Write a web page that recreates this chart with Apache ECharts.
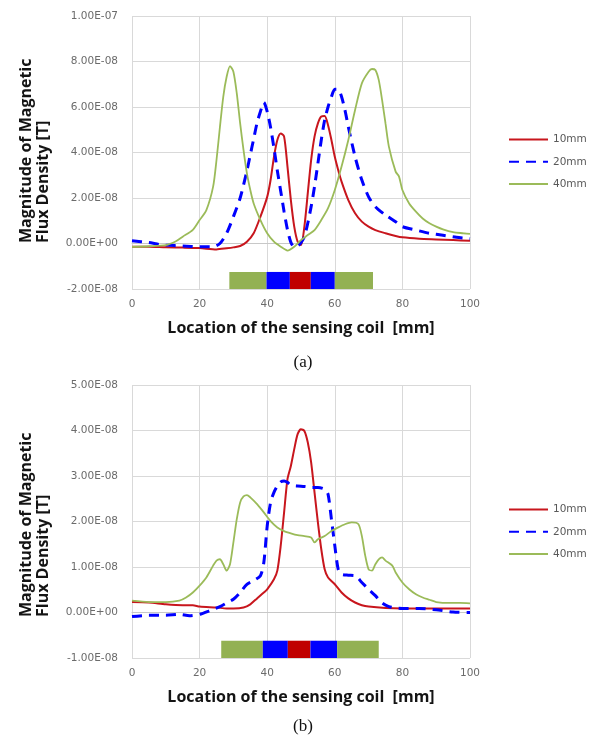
<!DOCTYPE html>
<html>
<head>
<meta charset="utf-8">
<script src="https://cdn.jsdelivr.net/npm/echarts@6/dist/echarts.min.js"></script>
<style>
  html, body { margin: 0; padding: 0; background: #fff; }
  #chart { width: 591px; height: 746px; }
</style>
</head>
<body>
<div id="chart"></div>
<script>
// values in units of 1e-8 T, x in mm
const UNIT = 1e-8

const seriesNames = ['10mm', '20mm', '40mm']

// (a)
const a10 = [[0,-0.14],[5,-0.14],[10,-0.17],[15,-0.18],[20,-0.2],[25,-0.26],[28,-0.21],[30,-0.17],[32,-0.11],[34,0.08],
  [36,0.45],[38,1.18],[40,2.05],[41,2.79],[42,3.81],[43,4.55],[44,4.84],[45,4.7],[46,3.38],[47,1.91],
  [48,0.74],[49,0.08],[50,-0.07],[51,0.74],[52,2.2],[53,3.67],[54,4.7],[55,5.28],[56,5.58],[57,5.6],
  [58,5.2],[59,4.55],[60,3.81],[61,3.23],[62,2.72],[64,1.91],[66,1.33],[68,0.96],[70,0.74],[72,0.59],
  [75,0.45],[78,0.33],[80,0.27],[85,0.21],[90,0.18],[95,0.15],[100,0.12]]
const a20 = [[0,0.12],[5,0.04],[8,-0.04],[10,-0.07],[15,-0.11],[20,-0.14],[24,-0.14],[26,0],[28,0.45],[30,1.18],
  [32,2.0],[34,3.2],[35,3.9],[36,4.6],[37,5.3],[38,5.8],[39,6.2],[40,5.8],[41,5.1],[42,4.2],
  [43,3.2],[44,2.3],[45,1.4],[46,0.6],[47,0.05],[48,-0.15],[49,-0.11],[50,0.04],[51,0.3],[52,0.89],
  [53,1.62],[54,2.5],[55,3.52],[56,4.55],[57,5.43],[58,6.0],[59,6.45],[60,6.78],[61,6.78],[62,6.45],
  [63,5.87],[64,5.13],[66,3.81],[68,2.79],[70,2.05],[72,1.62],[75,1.25],[78,0.96],[80,0.74],[84,0.59],
  [88,0.45],[92,0.36],[96,0.27],[100,0.21]]
const a40 = [[0,-0.15],[5,-0.12],[10,-0.07],[13,0.1],[15,0.3],[18,0.6],[20,1.03],[22,1.47],[24,2.5],[25,3.67],
  [26,5.1],[27,6.45],[28,7.33],[29,7.8],[30,7.55],[31,6.6],[32,5.28],[33,4.1],[34,3.08],[35,2.35],
  [36,1.76],[38,1.03],[40,0.45],[42,0.08],[44,-0.14],[46,-0.31],[48,-0.14],[50,0.15],[52,0.37],[54,0.59],
  [56,1.03],[58,1.55],[60,2.35],[62,3.38],[64,4.55],[66,5.87],[68,7.04],[70,7.55],[71,7.67],[72,7.63],
  [73,7.19],[74,6.3],[75,5.28],[76,4.26],[78,3.16],[79,2.94],[80,2.35],[82,1.76],[84,1.4],[86,1.1],
  [88,0.89],[90,0.74],[92,0.62],[95,0.5],[98,0.45],[100,0.42]]

// (b)
const b10 = [[0,0.23],[5,0.22],[10,0.18],[15,0.16],[18,0.16],[20,0.13],[25,0.11],[28,0.09],[30,0.09],[33,0.11],
  [35,0.18],[37,0.31],[39,0.44],[40,0.51],[42,0.73],[43,0.92],[44,1.47],[45,2.2],[46,2.93],[47,3.22],
  [48,3.59],[49,3.92],[50,4.03],[51,3.99],[52,3.74],[53,3.3],[54,2.64],[55,1.98],[56,1.39],[57,0.95],
  [58,0.77],[60,0.62],[62,0.44],[64,0.31],[66,0.22],[68,0.16],[70,0.13],[75,0.1],[80,0.09],[90,0.09],[100,0.09]]
const b20 = [[0,-0.09],[5,-0.06],[10,-0.06],[14,-0.04],[17,-0.07],[20,-0.04],[23,0.04],[26,0.13],[28,0.21],[30,0.29],
  [32,0.44],[34,0.62],[36,0.7],[38,0.81],[39,1.1],[40,1.9],[41,2.42],[42,2.64],[43,2.78],[44,2.87],
  [45,2.89],[46,2.86],[47,2.8],[49,2.78],[51,2.77],[53,2.75],[55,2.75],[57,2.71],[58,2.6],[59,2.05],
  [60,1.47],[61,0.95],[62,0.84],[64,0.82],[66,0.81],[68,0.66],[70,0.51],[72,0.37],[74,0.21],[76,0.13],
  [78,0.1],[80,0.09],[85,0.09],[90,0.06],[95,0.01],[100,0.0]]
const b40 = [[0,0.26],[5,0.23],[10,0.23],[14,0.26],[16,0.33],[18,0.44],[20,0.59],[22,0.77],[24,1.03],[25,1.14],
  [26,1.17],[27,1.06],[28,0.92],[29,1.06],[30,1.54],[31,2.05],[32,2.42],[33,2.55],[34,2.58],[35,2.53],
  [37,2.38],[39,2.2],[41,2.01],[43,1.87],[45,1.79],[47,1.74],[49,1.7],[51,1.68],[53,1.65],[54,1.54],
  [55,1.61],[57,1.68],[59,1.79],[61,1.87],[63,1.94],[65,1.98],[67,1.94],[68,1.68],[69,1.25],[70,0.95],
  [71,0.92],[72,1.06],[73,1.17],[74,1.21],[75,1.14],[77,1.03],[78,0.88],[80,0.66],[82,0.51],[84,0.4],
  [86,0.33],[88,0.28],[90,0.23],[94,0.21],[97,0.21],[100,0.2]]

// sensing coil layout: [start mm, end mm, band top, band bottom]
const coilA = [[28.8,39.8,-1.25,-2],[39.8,46.7,-1.25,-2],[46.7,52.9,-1.25,-2],[52.9,60,-1.25,-2],[60,71.3,-1.25,-2]]
const coilB = [[26.4,38.7,-0.62,-1],[38.7,46.1,-0.62,-1],[46.1,52.8,-0.62,-1],[52.8,60.7,-0.62,-1],[60.7,73,-0.62,-1]]
const coilColors = ['#93b153', '#0000ff', '#c00000', '#0000ff', '#93b153']

const lineColors = ['#c8161d', '#0000ff', '#9bbb59']
const lineWidths = [2, 3, 1.8]

const scale = arr => arr.map(p => [p[0], p[1] * UNIT])

// 1.00E-07 style labels
const sciLabel = v => {
  if (Math.abs(v) < 1e-20) return '0.00E+00'
  const parts = v.toExponential(2).split('e')
  const n = parseInt(parts[1], 10)
  return parts[0] + 'E' + (n < 0 ? '-' : '+') + String(Math.abs(n)).padStart(2, '0')
}

const gridColor = '#d9d9d9'
const tickFont = { color: '#6b6b6b', fontSize: 10.5, fontFamily: 'DejaVu Sans' }
const titleFont = { color: '#141414', fontSize: 16, fontWeight: 'bold', fontFamily: 'Open Sans' }

const makeX = gridIndex => ({
  type: 'value', gridIndex, min: 0, max: 100, interval: 20,
  name: 'Location of the sensing coil  [mm]', nameLocation: 'middle', nameGap: 31,
  nameTextStyle: titleFont,
  axisLine: { show: true, lineStyle: { color: '#c8c8c8' } },
  axisTick: { show: false },
  axisLabel: Object.assign({ margin: 10 }, tickFont),
  splitLine: { show: true, lineStyle: { color: gridColor } }
})
const makeY = (gridIndex, min, max, interval) => ({
  type: 'value', gridIndex, min, max, interval,
  axisLine: { show: false },
  axisTick: { show: false },
  axisLabel: Object.assign({ margin: 14, formatter: sciLabel }, tickFont),
  splitLine: { show: true, lineStyle: { color: gridColor } }
})

const lineSeries = (data, i, axisIndex) => ({
  name: seriesNames[i], type: 'line', xAxisIndex: axisIndex, yAxisIndex: axisIndex,
  data: scale(data), symbol: 'none', smooth: 0.25,
  lineStyle: { color: lineColors[i], width: lineWidths[i], type: i === 1 ? [10, 7] : 'solid' },
  itemStyle: { color: lineColors[i] }
})

const coilSeries = (data, axisIndex) => ({
  type: 'custom', xAxisIndex: axisIndex, yAxisIndex: axisIndex,
  data: data.map(d => [d[0], d[1], d[2] * UNIT, d[3] * UNIT]),
  encode: { x: [0, 1], y: [2, 3] },
  renderItem: (params, api) => {
    const p0 = api.coord([api.value(0), api.value(2)])
    const p1 = api.coord([api.value(1), api.value(3)])
    return {
      type: 'rect',
      shape: { x: p0[0], y: p0[1], width: p1[0] - p0[0], height: p1[1] - p0[1] },
      style: { fill: coilColors[params.dataIndex] }
    }
  }
})

// legend shows only the line, no marker
const makeLegend = top => ({
  orient: 'vertical', left: 503, top, itemWidth: 39, itemHeight: 14, itemGap: 11,
  data: seriesNames,
  itemStyle: { opacity: 0 },
  textStyle: { color: '#595959', fontSize: 10.5, fontFamily: 'DejaVu Sans' }
})

const yTitle = (x, y, text) => ({
  type: 'text', x, y, rotation: Math.PI / 2,
  style: { text, textAlign: 'left', textVerticalAlign: 'middle', fill: '#141414',
    font: 'bold 16px "Open Sans"' }
})
const caption = (y, text) => ({
  type: 'text', x: 303, y,
  style: { text, textAlign: 'center', textVerticalAlign: 'middle', fill: '#111',
    font: '17px "Liberation Serif"' }
})

const chart = echarts.init(document.getElementById('chart'))
chart.setOption({
  animation: false,
  backgroundColor: '#fff',
  grid: [
    { left: 132, top: 16, width: 338, height: 273 },
    { left: 132, top: 385, width: 338, height: 273 }
  ],
  xAxis: [makeX(0), makeX(1)],
  yAxis: [makeY(0, -2 * UNIT, 10 * UNIT, 2 * UNIT), makeY(1, -1 * UNIT, 5 * UNIT, 1 * UNIT)],
  legend: [makeLegend(129), makeLegend(499)],
  graphic: [
    yTitle(26, 243, 'Magnitude of Magnetic'),
    yTitle(43, 243, 'Flux Density [T]'),
    yTitle(26, 617, 'Magnitude of Magnetic'),
    yTitle(43, 617, 'Flux Density [T]'),
    caption(363, '(a)'),
    caption(727, '(b)')
  ],
  series: [
    coilSeries(coilA, 0),
    lineSeries(a10, 0, 0), lineSeries(a20, 1, 0), lineSeries(a40, 2, 0),
    coilSeries(coilB, 1),
    lineSeries(b10, 0, 1), lineSeries(b20, 1, 1), lineSeries(b40, 2, 1)
  ]
})
</script>
</body>
</html>
